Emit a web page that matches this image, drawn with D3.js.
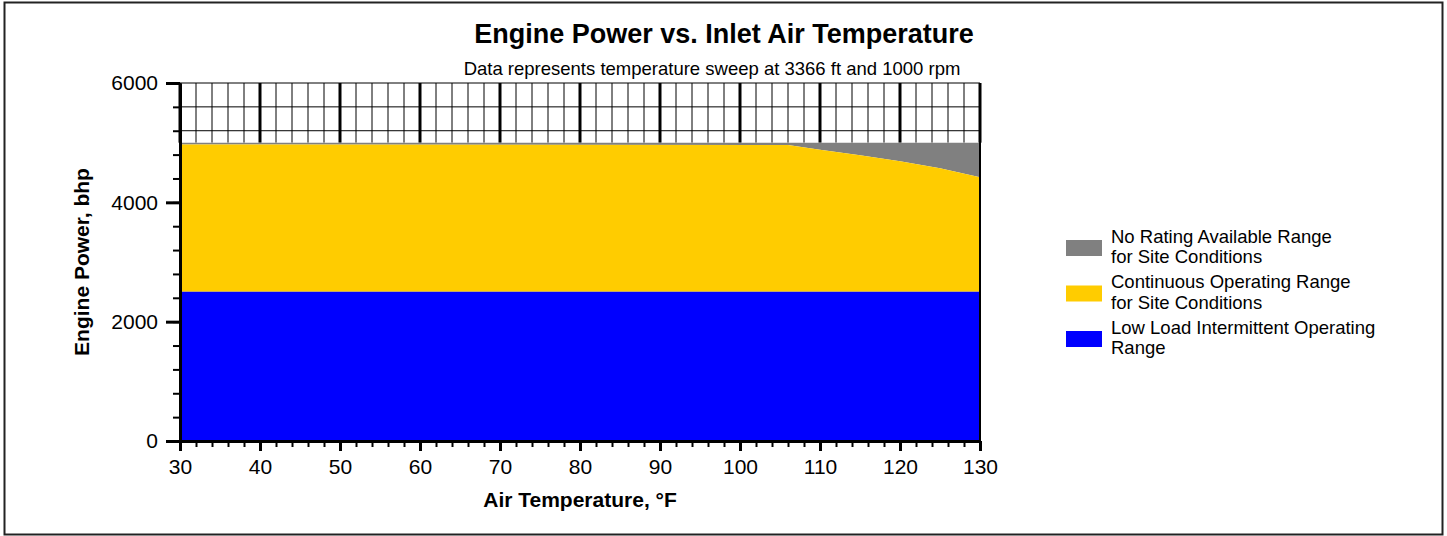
<!DOCTYPE html>
<html>
<head>
<meta charset="utf-8">
<script src="https://cdn.jsdelivr.net/npm/d3@7"></script>
<style>
  body { margin: 0; background: #fff; font-family: "Liberation Sans", Arial, sans-serif; }
  svg text { font-family: "Liberation Sans", Arial, sans-serif; }
</style>
</head>
<body>
<script>
// data
const temps = [30, 106, 110, 115, 120, 125, 130];
const ratedPower = [4970, 4960, 4880, 4790, 4690, 4570, 4420];
const lowLoadLimit = 2500;
const noRatingCeiling = 5000;
const xMajorTicks = [30, 40, 50, 60, 70, 80, 90, 100, 110, 120, 130];
const yMajorTicks = [0, 2000, 4000, 6000];
const legendLabels = [
    ["No Rating Available Range", "for Site Conditions"],
    ["Continuous Operating Range", "for Site Conditions"],
    ["Low Load Intermittent Operating", "Range"]
];
const legendColors = ["#808080", "#ffcc00", "#0000ff"];

const W = 1447, H = 536;
const margin = { top: 83, left: 180 },
      width = 800,
      height = 358;

const svg = d3.select('body').append('svg')
    .attr('width', W)
    .attr('height', H);

// outer frame
svg.append('rect')
    .attr('x', 4.5).attr('y', 2.5)
    .attr('width', 1438).attr('height', 532)
    .attr('fill', 'none')
    .attr('stroke', '#222')
    .attr('stroke-width', 2);

const g = svg.append('g')
    .attr('transform', 'translate(' + margin.left + ',' + margin.top + ')');

const x = d3.scaleLinear().domain([30, 130]).range([0, width]);
const y = d3.scaleLinear().domain([0, 6000]).range([height, 0]);

const xMinor = d3.range(30, 131, 2);
const yMinor = d3.range(0, 6001, 400);

// grid, shown only above the ranges
g.append('g').selectAll('line')
    .data(xMinor)
    .enter().append('line')
        .attr('x1', d => x(d)).attr('x2', d => x(d))
        .attr('y1', 0).attr('y2', y(noRatingCeiling))
        .attr('stroke', '#000')
        .attr('stroke-width', d => (d % 10 === 0) ? 3 : 1);
g.append('g').selectAll('line')
    .data(yMinor.filter(v => v > noRatingCeiling))
    .enter().append('line')
        .attr('x1', 0).attr('x2', width)
        .attr('y1', d => y(d)).attr('y2', d => y(d))
        .attr('stroke', '#000')
        .attr('stroke-width', 1);

// ranges
const rows = temps.map((t, i) => ({ t: t, p: ratedPower[i] }));

g.append('path')
    .datum(rows)
    .attr('fill', '#808080')
    .attr('d', d3.area().x(d => x(d.t)).y0(d => y(d.p)).y1(y(noRatingCeiling)));

g.append('path')
    .datum(rows)
    .attr('fill', '#ffcc00')
    .attr('d', d3.area().x(d => x(d.t)).y0(y(lowLoadLimit)).y1(d => y(d.p)));

g.append('path')
    .datum(rows)
    .attr('fill', '#0000ff')
    .attr('d', d3.area().x(d => x(d.t)).y0(y(0)).y1(y(lowLoadLimit)));

// right edge
g.append('line')
    .attr('x1', width).attr('x2', width)
    .attr('y1', 0).attr('y2', height)
    .attr('stroke', '#000').attr('stroke-width', 2);

// axes
const yAxisMinor = g.append('g')
    .call(d3.axisLeft(y).tickValues(yMinor).tickSize(7).tickFormat(''));
yAxisMinor.select('.domain').remove();
yAxisMinor.selectAll('line').attr('stroke-width', 2);

const yAxis = g.append('g')
    .call(d3.axisLeft(y).tickValues(yMajorTicks).tickSize(14).tickPadding(8)
        .tickSizeOuter(0).tickFormat(d3.format('d')));
yAxis.select('.domain').attr('stroke-width', 3);
yAxis.selectAll('line').attr('stroke-width', 3);
yAxis.selectAll('text').attr('font-size', '21px').attr('fill', '#000');

const xAxisMinor = g.append('g')
    .attr('transform', 'translate(0,' + height + ')')
    .call(d3.axisBottom(x).tickValues(xMinor).tickSize(6).tickFormat(''));
xAxisMinor.select('.domain').remove();
xAxisMinor.selectAll('line').attr('stroke-width', 2);

const xAxis = g.append('g')
    .attr('transform', 'translate(0,' + height + ')')
    .call(d3.axisBottom(x).tickValues(xMajorTicks).tickSize(10).tickPadding(8).tickSizeOuter(0));
xAxis.select('.domain').attr('stroke-width', 3);
xAxis.selectAll('line').attr('stroke-width', 3);
xAxis.selectAll('text').attr('font-size', '21px').attr('fill', '#000');

// titles
svg.append('text')
    .attr('x', 724).attr('y', 43)
    .attr('text-anchor', 'middle')
    .attr('font-size', '27px').attr('font-weight', 'bold')
    .text('Engine Power vs. Inlet Air Temperature');

svg.append('text')
    .attr('x', 712).attr('y', 75)
    .attr('text-anchor', 'middle')
    .attr('font-size', '18.5px')
    .text('Data represents temperature sweep at 3366 ft and 1000 rpm');

svg.append('text')
    .attr('x', margin.left + width / 2).attr('y', 507)
    .attr('text-anchor', 'middle')
    .attr('font-size', '21px').attr('font-weight', 'bold')
    .text('Air Temperature, °F');

svg.append('text')
    .attr('transform', 'translate(89,' + (margin.top + height / 2) + ') rotate(-90)')
    .attr('text-anchor', 'middle')
    .attr('font-size', '21px').attr('font-weight', 'bold')
    .text('Engine Power, bhp');

// legend
const legend = svg.append('g').attr('transform', 'translate(1066,240)');
legendLabels.forEach((lines, i) => {
    const item = legend.append('g').attr('transform', 'translate(0,' + (i * 45.5) + ')');
    item.append('rect')
        .attr('width', 36).attr('height', 16)
        .attr('fill', legendColors[i]);
    lines.forEach((l, j) => {
        item.append('text')
            .attr('x', 45).attr('y', 2.5 + j * 20.5)
            .attr('font-size', '18.5px')
            .text(l);
    });
});
</script>
</body>
</html>
